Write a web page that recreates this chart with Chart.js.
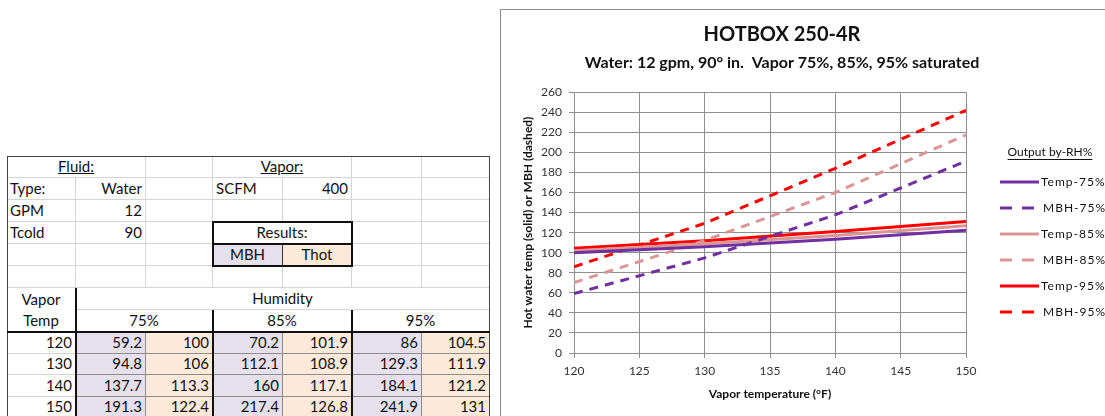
<!DOCTYPE html>
<html>
<head>
<meta charset="utf-8">
<script src="https://cdn.jsdelivr.net/npm/chart.js@4.4.1/dist/chart.umd.min.js"></script>
<style>
  html, body { margin: 0; padding: 0; background: #fff; }
  body { width: 1105px; height: 416px; overflow: hidden; position: relative; font-family: Lato, "Liberation Sans", sans-serif; }
  #sheet { position: absolute; left: 7px; top: 156px; width: 483px; height: 262px; }
  .cell { position: absolute; box-sizing: border-box; border-right: 1px solid #d4d4d4; border-bottom: 1px solid #d4d4d4;
          font-size: 15px; color: #111; display: flex; align-items: center; padding: 0 3px; white-space: nowrap; line-height: 21px; }
  .r { justify-content: flex-end; }
  .c { justify-content: center; text-align: center; }
  .l { justify-content: flex-start; }
  .u { text-decoration: underline; }
  .mbh { background: #e5e0ec; border-color: #8c8c8c; }
  .thot { background: #fde9d9; border-color: #8c8c8c; }
  .line { position: absolute; background: #111; }
  #chartBox { position: absolute; left: 500px; top: 9px; width: 700px; height: 500px; box-sizing: border-box; border: 1px solid #8c8c8c; }
  #chartWrap { position: absolute; left: 500px; top: 0; width: 605px; height: 416px; }
</style>
</head>
<body>
<div id="sheet"></div>
<div id="chartBox"></div>
<div id="chartWrap"><canvas id="hotbox"></canvas></div>
<script>
'use strict';

// ── data ─────────────────────────────────────
const vaporTemps = [120, 130, 140, 150];
const humidities = ['75%', '85%', '95%'];
const mbh75  = [59.2, 94.8, 137.7, 191.3];
const thot75 = [100, 106, 113.3, 122.4];
const mbh85  = [70.2, 112.1, 160, 217.4];
const thot85 = [101.9, 108.9, 117.1, 126.8];
const mbh95  = [86, 129.3, 184.1, 241.9];
const thot95 = [104.5, 111.9, 121.2, 131];
const xTicks = [120, 125, 130, 135, 140, 145, 150];
const yTicks = [0, 20, 40, 60, 80, 100, 120, 140, 160, 180, 200, 220, 240, 260];

// ── spreadsheet block ────────────────────────
(function initSheet() {
  const sheet = document.getElementById('sheet');
  const colX = [0, 69, 139, 206, 276, 345, 415, 483];
  const rowY = [0, 22, 44, 66, 88, 110, 132, 154, 176, 197.5, 219, 240.5, 262];

  const cell = (r, c, rs, cs, text, cls) => {
    const d = document.createElement('div');
    d.className = 'cell ' + (cls || '');
    d.style.left = colX[c] + 'px';
    d.style.top = rowY[r] + 'px';
    d.style.width = (colX[c + cs] - colX[c]) + 'px';
    d.style.height = (rowY[r + rs] - rowY[r]) + 'px';
    d.innerHTML = text;
    sheet.appendChild(d);
  };
  const line = (x, y, w, h, color) => {
    const d = document.createElement('div');
    d.className = 'line';
    d.style.left = x + 'px'; d.style.top = y + 'px';
    d.style.width = w + 'px'; d.style.height = h + 'px';
    if (color) d.style.background = color;
    sheet.appendChild(d);
  };

  // rows 0-5: inputs
  cell(0, 0, 1, 2, '<span class="u">Fluid:</span>', 'c');
  cell(0, 2, 1, 1, '', '');
  cell(0, 3, 1, 2, '<span class="u">Vapor:</span>', 'c');
  cell(0, 5, 1, 1, '', ''); cell(0, 6, 1, 1, '', '');
  const inputs = [
    ['Type:', 'Water', '', 'SCFM', '400', '', ''],
    ['GPM', '12', '', '', '', '', ''],
    ['Tcold', '90', '', null, null, '', ''],
    ['', '', '', null, null, '', ''],
    ['', '', '', '', '', '', ''],
  ];
  inputs.forEach((row, i) => {
    row.forEach((t, c) => {
      if (t === null) return;
      const align = (c === 1 || c === 4) ? 'r' : 'l';
      cell(i + 1, c, 1, 1, t, align);
    });
  });
  cell(3, 3, 1, 2, 'Results:', 'c');
  cell(4, 3, 1, 1, 'MBH', 'c mbh');
  cell(4, 4, 1, 1, 'Thot', 'c thot');

  // rows 6-7: headers
  cell(6, 0, 2, 1, 'Vapor<br>Temp', 'c');
  cell(6, 1, 1, 6, 'Humidity', 'c');
  humidities.forEach((h, i) => cell(7, 1 + i * 2, 1, 2, h, 'c'));

  // data rows
  const mbh = [mbh75, mbh85, mbh95];
  const thot = [thot75, thot85, thot95];
  vaporTemps.forEach((t, i) => {
    cell(8 + i, 0, 1, 1, String(t), 'r');
    for (let k = 0; k < 3; k++) {
      cell(8 + i, 1 + k * 2, 1, 1, String(mbh[k][i]), 'r mbh');
      cell(8 + i, 2 + k * 2, 1, 1, String(thot[k][i]), 'r thot');
    }
  });

  // outer + heavy borders
  line(0, 0, 483, 1, '#444');
  line(0, 0, 1, 262, '#444');
  line(482, 0, 1, 262, '#444');
  line(colX[3] - 1, rowY[3] - 1, colX[5] - colX[3] + 2, 2);
  line(colX[3] - 1, rowY[4] - 1, colX[5] - colX[3] + 2, 2);
  line(colX[3] - 1, rowY[5] - 1, colX[5] - colX[3] + 2, 2);
  line(colX[3] - 1, rowY[3] - 1, 2, rowY[5] - rowY[3] + 2);
  line(colX[5] - 1, rowY[3] - 1, 2, rowY[5] - rowY[3] + 2);
  line(colX[4] - 1, rowY[4], 1, rowY[5] - rowY[4], '#333');
  line(colX[1] - 1, rowY[6], 2, 262 - rowY[6]);
  line(colX[3] - 1, rowY[7], 2, 262 - rowY[7]);
  line(colX[5] - 1, rowY[7], 2, 262 - rowY[7]);
  line(0, rowY[8] - 1, 483, 2);
})();

// ── chart ────────────────────────────────────
(function initChart() {
  const canvas = document.getElementById('hotbox');
  if (!canvas || typeof Chart === 'undefined') return;

  const purple = '#7030a0';
  const pink = '#da9694';
  const red = '#ff0000';
  const pts = (ys) => vaporTemps.map((x, i) => ({ x, y: ys[i] }));
  const solid = (label, ys, color) => ({
    label, data: pts(ys), borderColor: color, backgroundColor: color,
    borderWidth: 3, pointRadius: 0, tension: 0, fill: false,
  });
  const dashed = (label, ys, color) => ({
    ...solid(label, ys, color), borderDash: [9, 7],
  });

  Chart.defaults.font.family = 'Lato, "Liberation Sans", sans-serif';
  Chart.defaults.color = '#222';

  const legendPlugin = {
    id: 'rhLegend',
    afterDraw(chart) {
      const ctx = chart.ctx;
      ctx.save();
      ctx.fillStyle = '#111';
      ctx.font = '12px Lato, sans-serif';
      ctx.textBaseline = 'middle';
      ctx.textAlign = 'center';
      const title = 'Output by-RH%';
      const tw = ctx.measureText(title).width;
      ctx.fillText(title, 550, 152);
      ctx.fillRect(550 - tw / 2, 159, tw, 1);
      ctx.textAlign = 'left';
      chart.data.datasets.forEach((ds, i) => {
        const y = 182 + i * 26;
        ctx.strokeStyle = ds.borderColor;
        ctx.lineWidth = 3;
        ctx.setLineDash(ds.borderDash ? [12, 10] : []);
        ctx.beginPath();
        ctx.moveTo(500, y);
        ctx.lineTo(539, y);
        ctx.stroke();
        ctx.setLineDash([]);
        ctx.letterSpacing = '1px';
        ctx.fillText(ds.label, ds.borderDash ? 543 : 541, y);
      });
      ctx.restore();
    },
  };

  new Chart(canvas, {
    type: 'line',
    data: {
      datasets: [
        solid('Temp-75%', thot75, purple),
        dashed('MBH-75%', mbh75, purple),
        solid('Temp-85%', thot85, pink),
        dashed('MBH-85%', mbh85, pink),
        solid('Temp-95%', thot95, red),
        dashed('MBH-95%', mbh95, red),
      ],
    },
    plugins: [legendPlugin],
    options: {
      responsive: true,
      maintainAspectRatio: false,
      animation: false,
      layout: { padding: { left: 0, right: 41, top: 0, bottom: 0 } },
      plugins: {
        legend: { display: false },
        tooltip: { enabled: false },
        title: {
          display: true, text: 'HOTBOX 250-4R', color: '#111',
          font: { family: '"Liberation Sans Narrow", Lato, sans-serif', size: 20, weight: 'bold' },
          padding: { top: 23, bottom: 3 },
        },
        subtitle: {
          display: true, text: 'Water: 12 gpm, 90\u00b0 in.  Vapor 75%, 85%, 95% saturated', color: '#111',
          font: { size: 16, weight: 'bold' }, padding: { top: 3, bottom: 20 },
        },
      },
      scales: {
        x: {
          type: 'linear', min: 120, max: 150,
          afterBuildTicks: (s) => { s.ticks = xTicks.map((v) => ({ value: v })); },
          afterFit: (s) => { s.height = 63; },
          grid: { color: '#8e8e8e', tickLength: 5 },
          border: { color: '#8e8e8e' },
          ticks: { font: { size: 12 }, color: '#333', padding: 6, maxRotation: 0 },
          title: {
            display: true, text: 'Vapor temperature (\u00b0F)', color: '#111',
            font: { size: 12, weight: 'bold' }, padding: { top: 4, bottom: 15 },
          },
        },
        y: {
          min: 0, max: 260,
          afterBuildTicks: (s) => { s.ticks = yTicks.map((v) => ({ value: v })); },
          afterFit: (s) => { s.width = 74; },
          grid: { color: '#8e8e8e', tickLength: 5 },
          border: { color: '#8e8e8e' },
          ticks: { font: { size: 12 }, color: '#333', padding: 7 },
          title: {
            display: true, text: 'Hot water temp (solid) or MBH (dashed)', color: '#111',
            font: { size: 12, weight: 'bold' }, padding: { top: 21, bottom: 4 },
          },
        },
        // empty right-hand axis: reserves room for the legend column
        legendGap: {
          type: 'linear', position: 'right', min: 0, max: 260,
          afterFit: (s) => { s.width = 98; },
          grid: { display: false, drawOnChartArea: false },
          border: { display: false },
          ticks: { display: false },
        },
      },
    },
  });
})();
</script>
</body>
</html>
